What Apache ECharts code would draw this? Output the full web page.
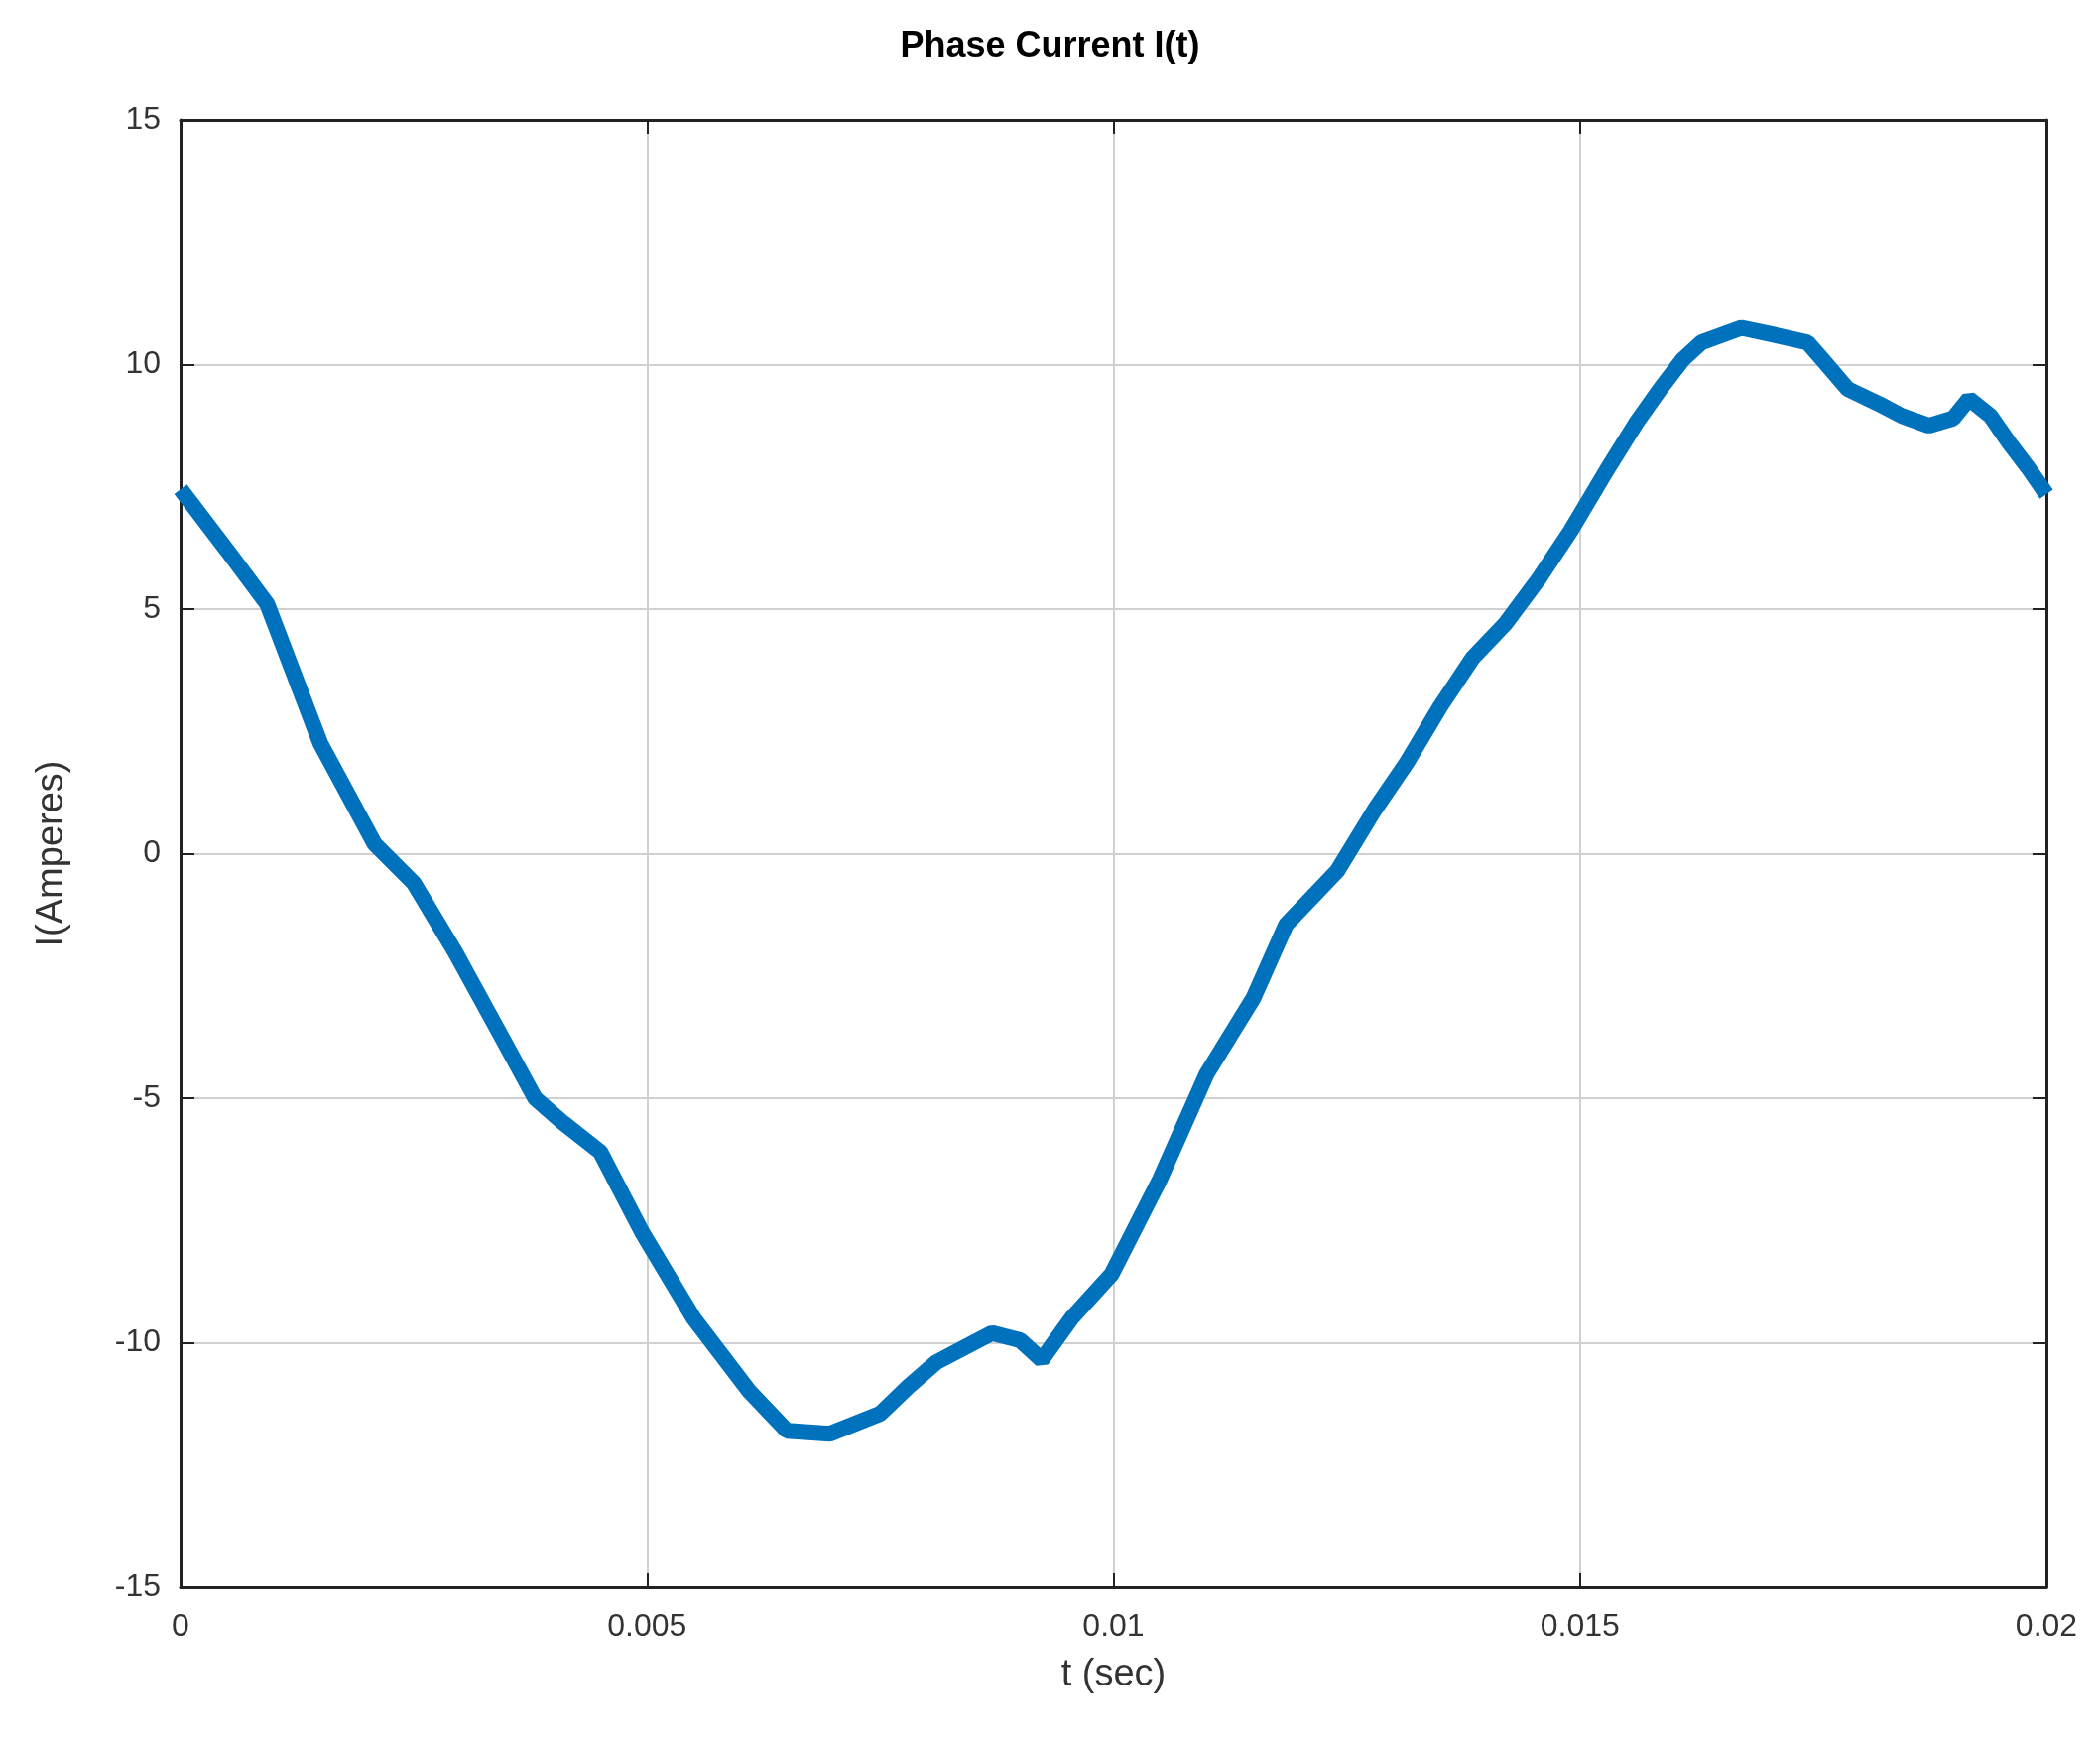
<!DOCTYPE html>
<html>
<head>
<meta charset="utf-8">
<script src="https://cdn.jsdelivr.net/npm/echarts@6/dist/echarts.min.js"></script>
<style>html,body{margin:0;background:#fff}#main{width:2117px;height:1761px}</style>
</head>
<body>
<div id="main"></div>
<script>
var tValues = [0, 0.0005, 0.00093, 0.0015, 0.00208, 0.0025, 0.00294, 0.0034, 0.0038, 0.0041, 0.0045, 0.00495,
  0.0055, 0.0061, 0.0065, 0.00696, 0.0075, 0.0078, 0.0081, 0.0084, 0.0087, 0.0090, 0.00923, 0.00955, 0.00998,
  0.0105, 0.011, 0.0115, 0.01185, 0.0124, 0.0128, 0.01314, 0.0135, 0.01385, 0.0142, 0.01457, 0.0149, 0.01529,
  0.0156, 0.01586, 0.0161, 0.0163, 0.01673, 0.0171, 0.01744, 0.0176, 0.01787, 0.0182, 0.01845, 0.01874, 0.019,
  0.01917, 0.0194, 0.0196, 0.0198, 0.02];
var iValues = [7.45, 6.2, 5.1, 2.25, 0.2, -0.6, -2.0, -3.6, -5.0, -5.5, -6.1, -7.75,
  -9.5, -11.0, -11.8, -11.86, -11.45, -10.9, -10.4, -10.1, -9.8, -9.95, -10.35, -9.5, -8.6,
  -6.65, -4.5, -2.95, -1.45, -0.35, 0.9, 1.85, 3.0, 4.0, 4.7, 5.65, 6.6, 7.85,
  8.8, 9.5, 10.1, 10.45, 10.75, 10.6, 10.45, 10.1, 9.5, 9.2, 8.95, 8.75, 8.9,
  9.3, 8.95, 8.4, 7.9, 7.35];
var xTicks = [0, 0.005, 0.01, 0.015, 0.02];

var data = tValues.map(function (t, i) { return [t, iValues[i]]; });
var tickStyle = { inside: true, length: 14, lineStyle: { color: '#222', width: 2 } };
var frameLine = { show: true, onZero: false, lineStyle: { color: '#222', width: 3 } };
var chart = echarts.init(document.getElementById('main'));
chart.setOption({
  backgroundColor: '#ffffff',
  animation: false,
  title: {
    text: 'Phase Current I(t)', left: 'center', top: 24,
    textStyle: { fontFamily: 'Liberation Sans', fontSize: 36, fontWeight: 'bold', color: '#000' }
  },
  grid: { left: 182, right: 54, top: 121, bottom: 161 },
  xAxis: [{
    type: 'value', min: 0, max: 0.02, interval: 0.005,
    name: 't (sec)', nameLocation: 'middle', nameGap: 70,
    nameTextStyle: { fontFamily: 'Liberation Sans', fontSize: 38, color: '#333' },
    axisLine: frameLine, axisTick: tickStyle,
    axisLabel: { fontFamily: 'Liberation Sans', fontSize: 32, color: '#333', margin: 24,
      formatter: function (v) { return xTicks.indexOf(v) >= 0 ? String(v) : ''; } },
    splitLine: { lineStyle: { color: '#d0d0d0', width: 2 } }
  }, {
    type: 'value', position: 'top', min: 0, max: 0.02, interval: 0.005,
    axisLine: frameLine, axisTick: tickStyle, axisLabel: { show: false }, splitLine: { show: false }
  }],
  yAxis: [{
    type: 'value', min: -15, max: 15, interval: 5,
    name: 'I(Amperes)', nameLocation: 'middle', nameGap: 110,
    nameTextStyle: { fontFamily: 'Liberation Sans', fontSize: 38, color: '#333' },
    axisLine: frameLine, axisTick: tickStyle,
    axisLabel: { fontFamily: 'Liberation Sans', fontSize: 32, color: '#333', margin: 20 },
    splitLine: { lineStyle: { color: '#d0d0d0', width: 2 } }
  }, {
    type: 'value', position: 'right', min: -15, max: 15, interval: 5,
    axisLine: frameLine, axisTick: tickStyle, axisLabel: { show: false }, splitLine: { show: false }
  }],
  series: [{
    type: 'line', data: data, showSymbol: false,
    lineStyle: { color: '#0072bd', width: 16 }
  }]
});
</script>
</body>
</html>
